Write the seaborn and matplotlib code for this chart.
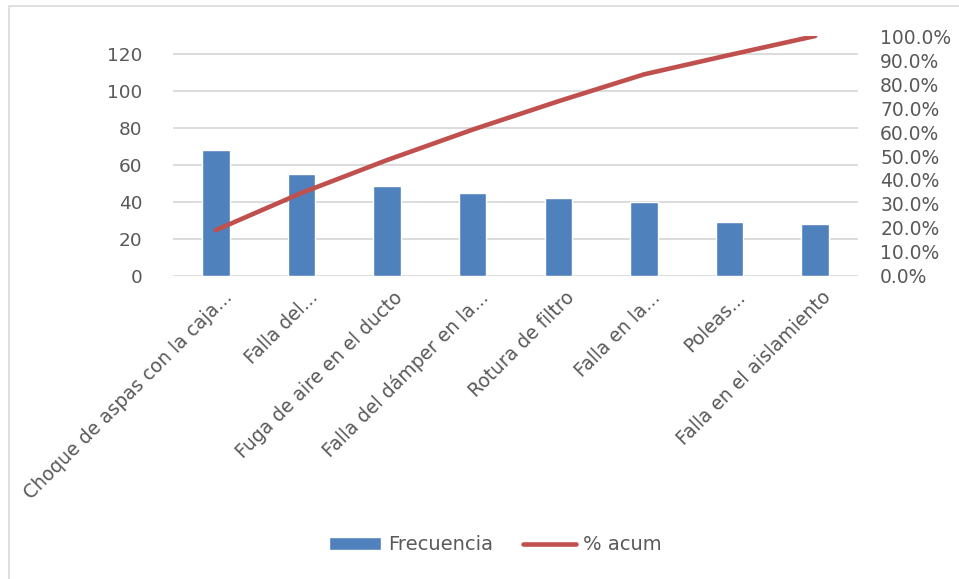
import numpy as np
import pandas as pd
import matplotlib
matplotlib.use("Agg")
import matplotlib.pyplot as plt
import matplotlib.transforms as mtransforms
from matplotlib.patches import Rectangle
import seaborn as sns

categories = [
    "Choque de aspas con la caja...",
    "Falla del...",
    "Fuga de aire en el ducto",
    "Falla del dámper en la...",
    "Rotura de filtro",
    "Falla en la...",
    "Poleas...",
    "Falla en el aislamiento",
]
frecuencia = [68, 55, 49, 45, 42, 40, 29, 28]
pct_acum = [0.191, 0.346, 0.483, 0.610, 0.728, 0.840, 0.921, 1.000]
left_ticks = [0, 20, 40, 60, 80, 100, 120]
right_ticks = [0.0, 0.1, 0.2, 0.3, 0.4, 0.5, 0.6, 0.7, 0.8, 0.9, 1.0]

df = pd.DataFrame({"categoria": categories, "Frecuencia": frecuencia, "acum": pct_acum})

sns.set_theme(style="white")
plt.rcParams["font.family"] = ["DejaVu Sans"]

BLUE = "#4F81BD"
RED = "#C0504D"
TEXT = "#595959"
GRID = "#D9D9D9"

fig = plt.figure(figsize=(9.59, 5.79), dpi=100)
ax = fig.add_axes([173 / 959, 1 - 276 / 579, (858 - 173) / 959, (276 - 36) / 579])

sns.barplot(data=df, x="categoria", y="Frecuencia", color=BLUE, width=0.32,
            saturation=1, ax=ax, zorder=3)
ax.set_xlim(-0.5, len(categories) - 0.5)
ax.set_ylim(0, 130)
ax.set_yticks(left_ticks)
ax.set_xlabel("")
ax.set_ylabel("")
ax.yaxis.grid(True, color=GRID, linewidth=1.3, zorder=0)
ax.set_axisbelow(True)
for s in ax.spines.values():
    s.set_visible(False)
ax.tick_params(axis="y", length=0, pad=22, labelsize=13.3, labelcolor=TEXT)
ax.tick_params(axis="x", length=0, pad=4, labelsize=13.5, labelcolor=TEXT)

ax.set_xticks(range(len(categories)))
ax.set_xticklabels(categories, rotation=45, ha="right", va="center",
                   rotation_mode="anchor")
offset = mtransforms.ScaledTranslation(13 / 100, -13 / 100, fig.dpi_scale_trans)
for lbl in ax.get_xticklabels():
    lbl.set_transform(lbl.get_transform() + offset)

ax2 = ax.twinx()
sns.lineplot(x=np.arange(len(categories)), y=df["acum"], color=RED, linewidth=3.3,
             ax=ax2, legend=False, zorder=4)
ax2.set_ylim(0, 1.0)
ax2.set_yticks(right_ticks)
ax2.set_yticklabels([f"{v * 100:.1f}%" for v in right_ticks])
ax2.set_ylabel("")
ax2.grid(False)
for s in ax2.spines.values():
    s.set_visible(False)
ax2.tick_params(axis="y", length=0, pad=16, labelsize=13.5, labelcolor=TEXT)

handles = [ax.patches[0], ax2.lines[0]]
fig.legend(handles, ["Frecuencia", "% acum"], loc="center",
           bbox_to_anchor=(495 / 959, 1 - 545 / 579), ncol=2, frameon=False,
           fontsize=14, labelcolor=TEXT, handlelength=2.7, handleheight=0.68,
           handletextpad=0.35, columnspacing=1.55)

# chart area border
fig.patches.append(Rectangle((9 / 959, -0.1), 1.2, 1 - 6.5 / 579 + 0.1,
                             transform=fig.transFigure, fill=False,
                             edgecolor=GRID, linewidth=1.2))

fig.savefig("out.png", dpi=100)
